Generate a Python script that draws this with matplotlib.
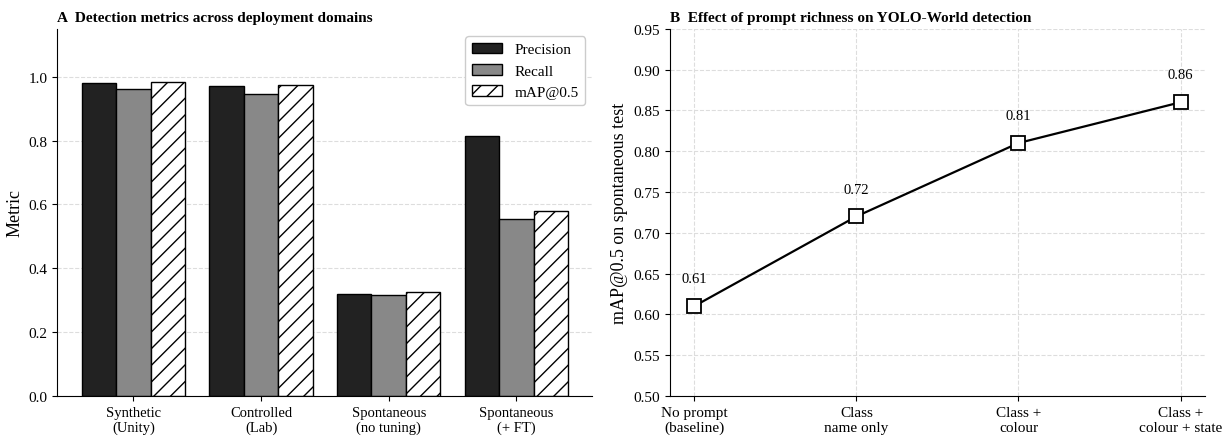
import numpy as np
import matplotlib.pyplot as plt

# Panel A data
domains = ["Synthetic\n(Unity)", "Controlled\n(Lab)", "Spontaneous\n(no tuning)", "Spontaneous\n(+ FT)"]
precision = [0.980, 0.970, 0.320, 0.815]
recall = [0.962, 0.945, 0.315, 0.555]
map50 = [0.985, 0.975, 0.325, 0.580]

# Panel B data
prompts = ["No prompt\n(baseline)", "Class\nname only", "Class +\ncolour", "Class +\ncolour + state"]
prompt_map = [0.61, 0.72, 0.81, 0.86]

plt.rcParams.update({
    'font.family': 'Liberation Serif',
    'font.size': 11,
    'axes.labelsize': 13,
    'legend.fontsize': 11,
    'hatch.linewidth': 1.0,
})

fig, (ax1, ax2) = plt.subplots(1, 2, figsize=(12.22, 4.39), dpi=100)
fig.subplots_adjust(left=0.047, right=0.986, top=0.932, bottom=0.096, wspace=0.145)

# ---- Panel A ----
x = np.arange(len(domains))
w = 0.27
ax1.bar(x - w, precision, w, color='#222222', edgecolor='black', lw=1.0, label='Precision')
ax1.bar(x, recall, w, color='#888888', edgecolor='black', lw=1.0, label='Recall')
ax1.bar(x + w, map50, w, color='white', edgecolor='black', lw=1.0, hatch='//', label='mAP@0.5')
ax1.set_xticks(x)
ax1.set_xticklabels(domains, fontsize=10.5)
ax1.set_ylim(0, 1.15)
ax1.set_yticks([0.0, 0.2, 0.4, 0.6, 0.8, 1.0])
ax1.set_ylabel("Metric")
ax1.grid(True, axis='y', color='#dddddd', ls='--', lw=0.8)
ax1.set_axisbelow(True)
ax1.legend(loc='upper right', framealpha=1.0, edgecolor='#cccccc')
ax1.set_title("A  Detection metrics across deployment domains", loc='left',
              fontweight='bold', fontsize=11)

# ---- Panel B ----
xb = np.arange(len(prompts))
ax2.plot(xb, prompt_map, color='black', lw=1.6, marker='s', markersize=10,
         markerfacecolor='white', markeredgecolor='black', markeredgewidth=1.3)
for xi, v in zip(xb, prompt_map):
    ax2.annotate(f"{v:.2f}", (xi, v), xytext=(0, 15), textcoords='offset points',
                 ha='center', va='bottom', fontsize=10.5)
ax2.set_xticks(xb)
ax2.set_xticklabels(prompts, fontsize=11)
ax2.set_xlim(-0.15, 3.15)
ax2.set_ylim(0.5, 0.95)
ax2.set_yticks(np.arange(0.50, 0.951, 0.05))
ax2.set_ylabel("mAP@0.5 on spontaneous test")
ax2.grid(True, color='#dddddd', ls='--', lw=0.8)
ax2.set_axisbelow(True)
ax2.set_title("B  Effect of prompt richness on YOLO-World detection", loc='left',
              fontweight='bold', fontsize=11)

for ax in (ax1, ax2):
    ax.spines['top'].set_visible(False)
    ax.spines['right'].set_visible(False)

fig.savefig("out.png", dpi=100)
